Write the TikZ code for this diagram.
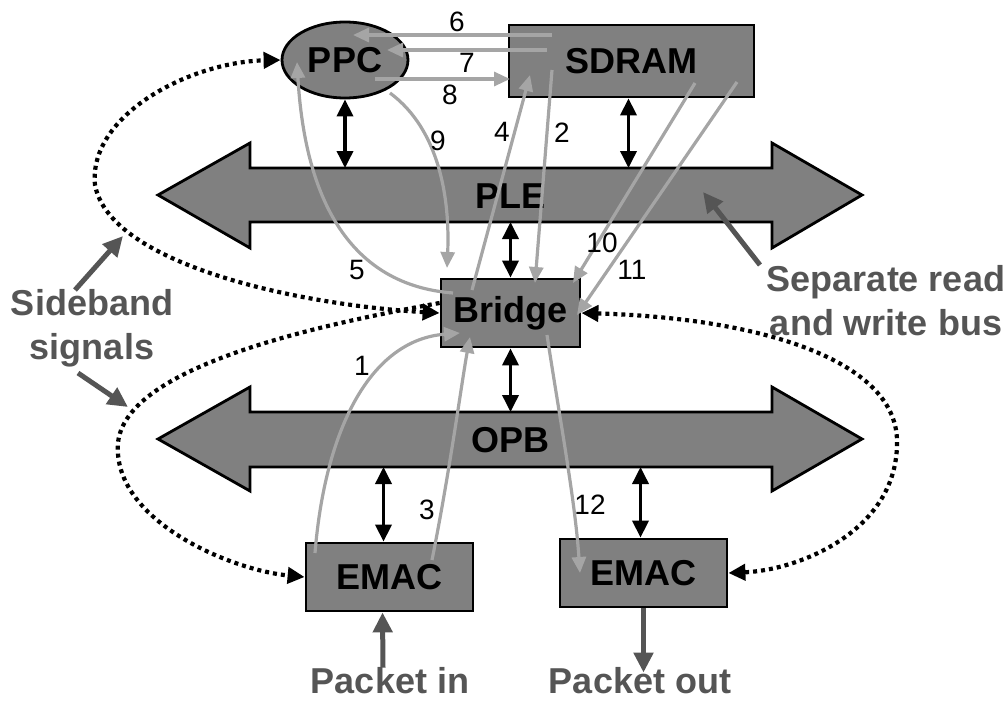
\documentclass[tikz,border=0pt]{standalone}
\usepackage{fontspec}
\setmainfont{Liberation Sans}
\usetikzlibrary{arrows.meta,shapes.geometric}
\definecolor{boxgray}{RGB}{128,128,128}
\definecolor{anngray}{RGB}{85,85,85}
\definecolor{flowgray}{RGB}{165,165,165}
\begin{document}
\begin{tikzpicture}[x=1pt,y=-1pt,
 box/.style={draw=black, line width=2.8pt, fill=boxgray, font=\fontsize{36}{38}\selectfont\bfseries, inner sep=0pt},
 bus/.style={draw=black, line width=2.8pt, fill=boxgray, line join=miter},
 buslabel/.style={font=\fontsize{36}{38}\selectfont\bfseries, inner sep=0pt},
 link/.style={line width=3.6pt, {Triangle[length=17pt,width=16pt]}-{Triangle[length=17pt,width=16pt]}},
 side/.style={line width=4.2pt, dash pattern=on 4pt off 4pt},
 sidetip/.style={-{Triangle[length=17pt,width=16pt]}},
 flow/.style={draw=flowgray, line width=3.2pt, -{Triangle[length=16pt,width=14pt,fill=flowgray]}},
 num/.style={font=\fontsize{28}{30}\selectfont, inner sep=0pt},
 ann/.style={text=anngray, font=\fontsize{36}{44}\selectfont\bfseries, align=center, inner sep=0pt},
 annarrow/.style={draw=anngray, line width=5pt, -{Triangle[length=20pt,width=19pt]}}
]
\useasboundingbox (0,0) rectangle (1008,701);

% buses
\draw[bus] (158,195) -- (250,143) -- (250,168) -- (772,168) -- (772,143) -- (862,195)
  -- (772,248) -- (772,222) -- (250,222) -- (250,248) -- cycle;
\draw[bus] (158,439) -- (250,387) -- (250,412) -- (772,412) -- (772,387) -- (862,439)
  -- (772,491) -- (772,467) -- (250,467) -- (250,491) -- cycle;
\node[buslabel] (ple) at (510,196) {PLE};
\node[buslabel] (opb) at (510,440) {OPB};
\coordinate (pleT) at (0,168);
\coordinate (pleB) at (0,222);
\coordinate (opbT) at (0,412);
\coordinate (opbB) at (0,467);

% nodes
\node[box, ellipse, minimum width=126pt, minimum height=76pt] (ppc) at (345,60) {PPC};
\node[box, rectangle, minimum width=245pt, minimum height=72pt] (sdram) at (631.5,61) {SDRAM};
\node[box, rectangle, minimum width=139pt, minimum height=68pt] (bridge) at (510.5,313) {Bridge};
\node[box, rectangle, minimum width=167pt, minimum height=68pt] (emac1) at (389.5,577) {EMAC};
\node[box, rectangle, minimum width=167pt, minimum height=68pt] (emac2) at (643.5,573) {EMAC};

% bus links
\draw[link] (ppc.south) -- (ppc.south |- pleT);
\draw[link] ([xshift=-3pt]sdram.south) -- ([xshift=-3pt]sdram.south |- pleT);
\draw[link] (bridge.north) -- (bridge.north |- pleB);
\draw[link] (bridge.south) -- (bridge.south |- opbT);
\draw[link] ([xshift=-6pt]emac1.north) -- ([xshift=-6pt]emac1.north |- opbB);
\draw[link] ([xshift=-3pt]emac2.north) -- ([xshift=-3pt]emac2.north |- opbB);

% sideband signals
\draw[side, {Triangle[length=17pt,width=16pt]}-{Triangle[length=17pt,width=16pt]}]
  (bridge.west) .. controls (300,305) and (110,265) .. (95,185)
  .. controls (88,115) and (190,62) .. (ppc.west);
\draw[side, sidetip] ([yshift=10pt]bridge.west) .. controls (300,328) and (125,370) .. (118,443)
  .. controls (112,520) and (230,570) .. (emac1.west);
\draw[side, {Triangle[length=17pt,width=16pt]}-{Triangle[length=17pt,width=16pt]}]
  (bridge.east) .. controls (760,318) and (895,360) .. (897,440)
  .. controls (899,530) and (800,570) .. (emac2.east);

% data flows
\draw[flow] ([shift={(-79.5,-26)}]sdram.center) -- ([shift={(8,-25)}]ppc.center);
\draw[flow] ([shift={(-84.5,-11)}]sdram.center) -- ([shift={(42,-10)}]ppc.center);
\draw[flow] ([shift={(30,19)}]ppc.center) -- ([shift={(-121.5,18)}]sdram.center);
\draw[flow] ([shift={(45,33)}]ppc.center) .. controls (440,130) and (450,200) .. ([shift={(-63.5,-45)}]bridge.center);
\draw[flow] ([shift={(-57.5,-20)}]bridge.center) .. controls (350,285) and (305,200) .. ([shift={(-48,2)}]ppc.center);
\draw[flow] ([shift={(-38.5,-23)}]bridge.center) -- ([shift={(-101.5,14)}]sdram.center);
\draw[flow] ([shift={(-79.5,9)}]sdram.center) -- ([shift={(24.5,-30)}]bridge.center);
\draw[flow] ([shift={(63.5,22)}]sdram.center) -- ([shift={(62.5,-30)}]bridge.center);
\draw[flow] ([shift={(105.5,21)}]sdram.center) -- ([shift={(66.5,2)}]bridge.center);
\draw[flow] ([shift={(-74.5,-24)}]emac1.center) .. controls (325,430) and (370,340) .. ([shift={(-50.5,20)}]bridge.center);
\draw[flow] ([shift={(42.5,-17)}]emac1.center) .. controls (450,470) and (462,380) .. ([shift={(-40.5,24)}]bridge.center);
\draw[flow] ([shift={(36.5,22)}]bridge.center) .. controls (560,420) and (575,500) .. ([shift={(-63.5,0)}]emac2.center);

% numbers
\node[num] (n6) at (457,22) {6};
\node[num] (n7) at (467,63) {7};
\node[num] (n8) at (450,95) {8};
\node[num] (n9) at (438,141) {9};
\node[num] (n4) at (502,132) {4};
\node[num] (n2) at (562,133) {2};
\node[num] (n5) at (357,270) {5};
\node[num] (n10) at (602,243) {10};
\node[num] (n11) at (632,270) {11};
\node[num] (n1) at (362,366) {1};
\node[num] (n3) at (427,510) {3};
\node[num] (n12) at (590,505) {12};

% annotations
\node[ann] (sb) at (92,328) {Sideband\\signals};
\coordinate (sbA) at (123,236);
\coordinate (sbB) at (128,407);
\draw[annarrow] (75,290) -- (sbA);
\draw[annarrow] (78,373) -- (sbB);
\node[ann] (srw) at (886,301) {Separate read\\and write bus};
\coordinate (srwA) at (703,192);
\draw[annarrow] (760,265) -- (srwA);
\node[ann] (pin) at (390,681) {Packet in};
\node[ann] (pout) at (640,681) {Packet out};
\draw[annarrow] ([xshift=-7pt]pin.north) -- ([xshift=-7pt]emac1.south);
\draw[annarrow] (emac2.south) -- ([yshift=-5pt]pout.north -| emac2.south);
\end{tikzpicture}
\end{document}
